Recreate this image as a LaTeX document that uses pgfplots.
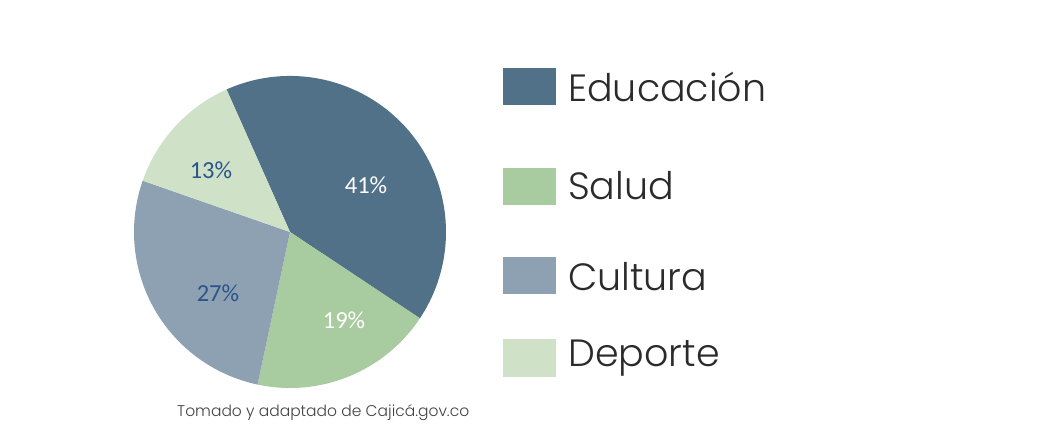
\documentclass[border=0pt]{standalone}
\usepackage{pgfplots}
\pgfplotsset{compat=1.18}
\usepackage{fontspec}
\setmainfont{Poppins}[UprightFont={* Light}]
\newfontfamily\pctfont{Carlito}
\definecolor{cedu}{HTML}{517189}
\definecolor{csal}{HTML}{A9CBA0}
\definecolor{ccul}{HTML}{8DA1B3}
\definecolor{cdep}{HTML}{CFE2C8}
\definecolor{clab}{HTML}{2C548A}
\definecolor{ctxt}{HTML}{2B2B2B}
\begin{document}
\begin{tikzpicture}
\begin{axis}[width=1055pt,height=443pt,scale only axis,
  xmin=0,xmax=1055,ymin=0,ymax=443,hide axis,clip=false]
\path (axis cs:0,0) rectangle (axis cs:1055,443);
% pie: centre (290,211), radius 156; values 41, 19, 27, 13 (percent)
\fill[cedu] (axis cs:290,211) -- ++(114:156pt) arc[start angle=114, delta angle=-41*3.6, radius=156pt] -- cycle;
\fill[csal] (axis cs:290,211) -- ++(114-41*3.6:156pt) arc[start angle=114-41*3.6, delta angle=-19*3.6, radius=156pt] -- cycle;
\fill[ccul] (axis cs:290,211) -- ++(114-60*3.6:156pt) arc[start angle=114-60*3.6, delta angle=-27*3.6, radius=156pt] -- cycle;
\fill[cdep] (axis cs:290,211) -- ++(114-87*3.6:156pt) arc[start angle=114-87*3.6, delta angle=-13*3.6, radius=156pt] -- cycle;
\node[text=white,font=\pctfont\fontsize{24.5}{24.5}\selectfont] at (axis cs:366,258) {41\%};
\node[text=white,font=\pctfont\fontsize{24.5}{24.5}\selectfont] at (axis cs:344,123) {19\%};
\node[text=clab,font=\pctfont\fontsize{24.5}{24.5}\selectfont] at (axis cs:218,150) {27\%};
\node[text=clab,font=\pctfont\fontsize{24.5}{24.5}\selectfont] at (axis cs:211,273) {13\%};
% legend
\fill[cedu] (axis cs:503,338) rectangle (axis cs:556,375);
\fill[csal] (axis cs:503,238) rectangle (axis cs:556,275);
\fill[ccul] (axis cs:503,149) rectangle (axis cs:556,186);
\fill[cdep] (axis cs:503,66) rectangle (axis cs:556,104);
\node[anchor=base west,inner sep=0pt,text=ctxt,font=\fontsize{38}{38}\selectfont] at (axis cs:568,341) {Educación};
\node[anchor=base west,inner sep=0pt,text=ctxt,font=\fontsize{38}{38}\selectfont] at (axis cs:568,243) {Salud};
\node[anchor=base west,inner sep=0pt,text=ctxt,font=\fontsize{38}{38}\selectfont] at (axis cs:568,152) {Cultura};
\node[anchor=base west,inner sep=0pt,text=ctxt,font=\fontsize{38}{38}\selectfont] at (axis cs:568,76) {Deporte};
\node[anchor=base west,inner sep=0pt,text=black!75,font=\fontsize{15.5}{15.5}\selectfont] at (axis cs:177,26) {Tomado y adaptado de Cajicá.gov.co};
\end{axis}
\end{tikzpicture}
\end{document}
